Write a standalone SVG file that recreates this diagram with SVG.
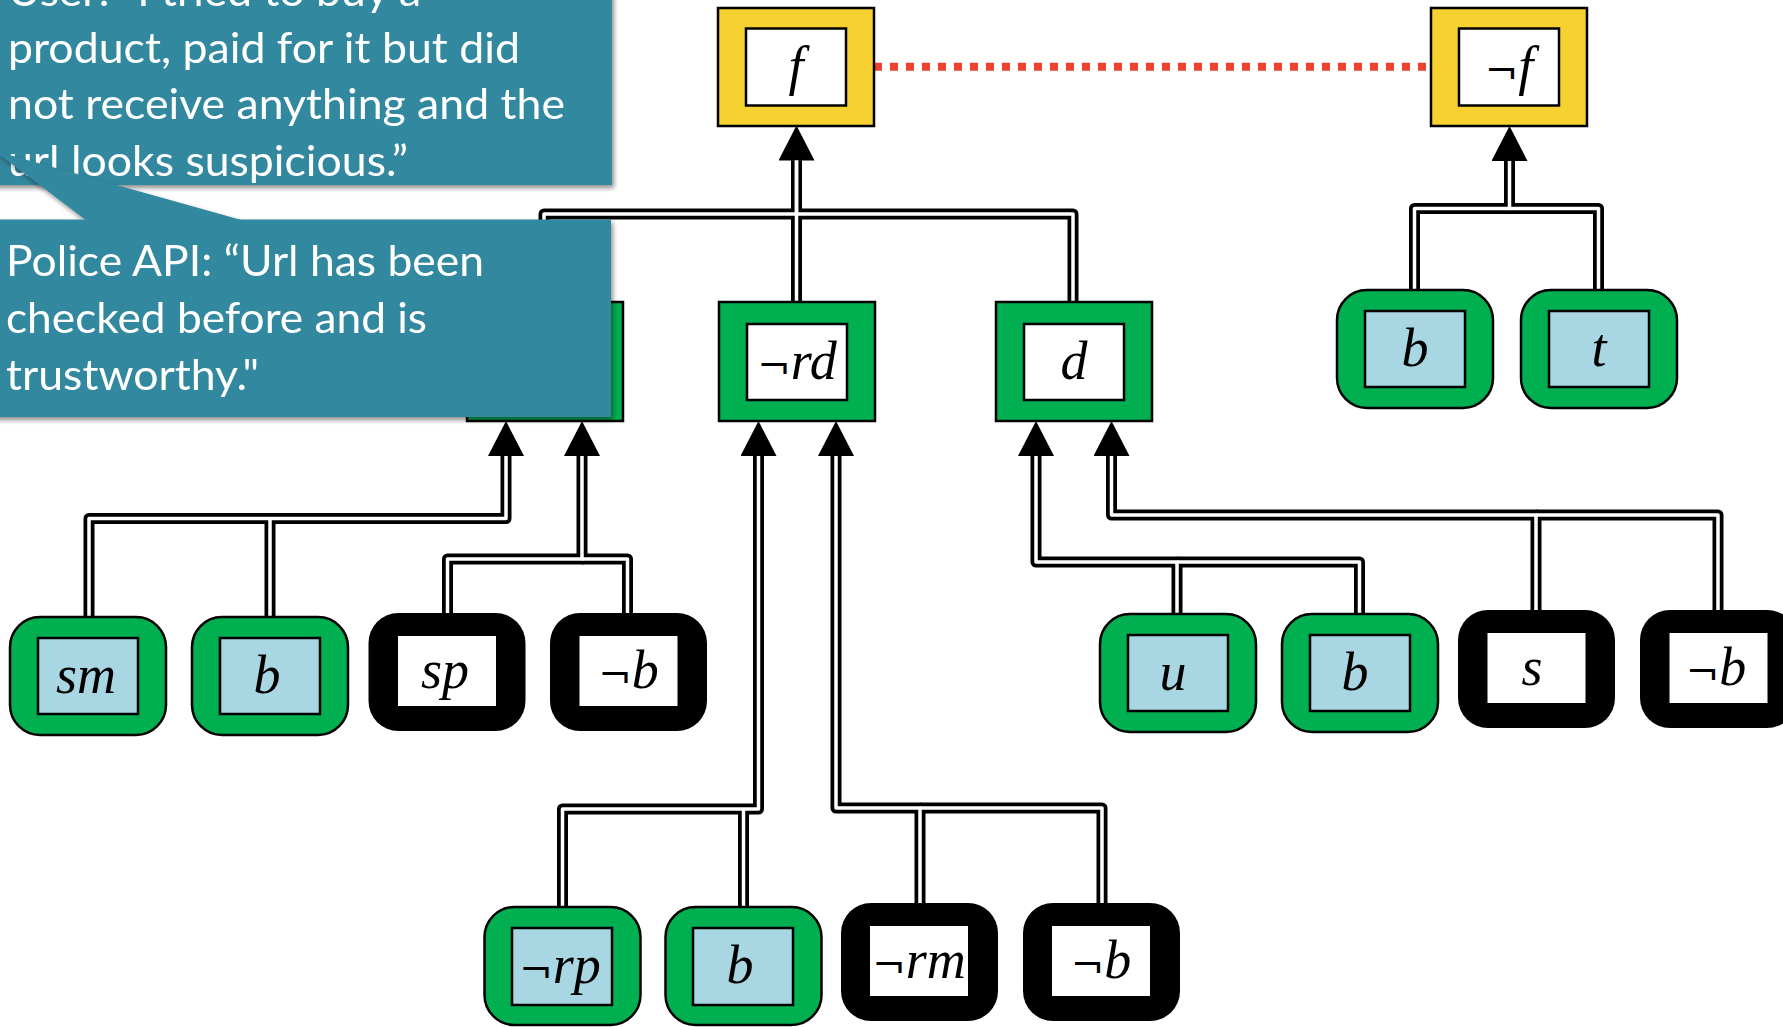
<svg xmlns="http://www.w3.org/2000/svg" width="1783" height="1027" viewBox="0 0 1783 1027">
<defs>
<style>
.cb{fill:none;stroke:#000;stroke-width:11;stroke-linejoin:round}
.cw{fill:none;stroke:#fff;stroke-width:3.5;stroke-linejoin:round}
.yel{fill:#F7D130;stroke:#000;stroke-width:2.5}
.grn{fill:#00AF50;stroke:#000;stroke-width:2.5}
.in{fill:#fff;stroke:#000;stroke-width:2.5}
.inb{fill:#A8D6E2;stroke:#000;stroke-width:2.5}
.blk{fill:#000}
.inw{fill:#fff}
.lbl{font-family:"Liberation Serif",serif;font-style:italic;font-size:54px;text-anchor:middle;fill:#000}
.neg{font-family:"DejaVu Serif",serif;font-style:normal;font-size:40px}
.co{fill:#31889F}
.ct{font-family:Lato,"Open Sans",sans-serif;font-size:42px;fill:#fff}
</style>
<marker id="ah" markerUnits="userSpaceOnUse" markerWidth="36" markerHeight="36" viewBox="0 0 36 36" refX="0" refY="18" orient="auto">
<path d="M0,0 L35,18 L0,36 z" fill="#000"/>
</marker>
<filter id="sh" x="-10%" y="-10%" width="130%" height="140%">
<feGaussianBlur in="SourceAlpha" stdDeviation="2.5"/>
<feOffset dx="2" dy="3" result="b"/>
<feComponentTransfer><feFuncA type="linear" slope="0.45"/></feComponentTransfer>
<feMerge><feMergeNode/><feMergeNode in="SourceGraphic"/></feMerge>
</filter>
</defs>
<rect width="1783" height="1027" fill="#fff"/>

<g id="n-hidden">
<rect class="grn" x="467" y="302" width="156" height="119"/>
<rect class="in" x="495" y="324" width="100" height="76"/>
</g>

<g id="connectors">
<line x1="874" y1="66.7" x2="1430" y2="66.7" stroke="#F04030" stroke-width="8" stroke-dasharray="8 8"/>
<g class="black">
<path class="cb" d="M544,302 V214 H796.5 V160.5"/>
<path class="cb" d="M1073,302 V214 H796.5"/>
<path class="cb" d="M796.5,302 V160.5" marker-end="url(#ah)"/>
<path class="cb" d="M1598.5,290 V208.5 H1509.5"/>
<path class="cb" d="M1414.5,290 V208.5 H1509.5 V161" marker-end="url(#ah)"/>
<path class="cb" d="M270,617 V518.5"/>
<path class="cb" d="M89,617 V518.5 H506 V456" marker-end="url(#ah)"/>
<path class="cb" d="M627.5,613 V559 H582"/>
<path class="cb" d="M447.5,613 V559 H582 V456" marker-end="url(#ah)"/>
<path class="cb" d="M743.5,907 V809"/>
<path class="cb" d="M562.5,907 V809 H758.5 V456" marker-end="url(#ah)"/>
<path class="cb" d="M1102,903 V808 H920"/>
<path class="cb" d="M920,903 V808 H836 V456" marker-end="url(#ah)"/>
<path class="cb" d="M1359.5,614 V562 H1177"/>
<path class="cb" d="M1177,614 V562 H1036 V456" marker-end="url(#ah)"/>
<path class="cb" d="M1718,610 V515 H1536"/>
<path class="cb" d="M1536,610 V515 H1111.5 V456" marker-end="url(#ah)"/>
</g>
<g class="white">
<path class="cw" d="M544,302 V214 H796.5 V160.5"/>
<path class="cw" d="M1073,302 V214 H796.5"/>
<path class="cw" d="M796.5,302 V160.5"/>
<path class="cw" d="M1598.5,290 V208.5 H1509.5"/>
<path class="cw" d="M1414.5,290 V208.5 H1509.5 V161"/>
<path class="cw" d="M270,617 V518.5"/>
<path class="cw" d="M89,617 V518.5 H506 V456"/>
<path class="cw" d="M627.5,613 V559 H582"/>
<path class="cw" d="M447.5,613 V559 H582 V456"/>
<path class="cw" d="M743.5,907 V809"/>
<path class="cw" d="M562.5,907 V809 H758.5 V456"/>
<path class="cw" d="M1102,903 V808 H920"/>
<path class="cw" d="M920,903 V808 H836 V456"/>
<path class="cw" d="M1359.5,614 V562 H1177"/>
<path class="cw" d="M1177,614 V562 H1036 V456"/>
<path class="cw" d="M1718,610 V515 H1536"/>
<path class="cw" d="M1536,610 V515 H1111.5 V456"/>
</g>
</g>

<g id="n-f">
<rect class="yel" x="718" y="8" width="156" height="118"/>
<rect class="in" x="746" y="28.5" width="100" height="77"/>
<text class="lbl" x="796" y="84">f</text>
</g>
<g id="n-notf">
<rect class="yel" x="1431" y="8" width="156" height="118"/>
<rect class="in" x="1459" y="28.5" width="100" height="77"/>
<text class="lbl" x="1509" y="84"><tspan class="neg">¬</tspan>f</text>
</g>
<g id="n-notrd">
<rect class="grn" x="719" y="302" width="156" height="119"/>
<rect class="in" x="747" y="324" width="100" height="76"/>
<text class="lbl" x="797" y="379"><tspan class="neg">¬</tspan>rd</text>
</g>
<g id="n-d">
<rect class="grn" x="996" y="302" width="156" height="119"/>
<rect class="in" x="1024" y="324" width="100" height="76"/>
<text class="lbl" x="1074" y="379">d</text>
</g>
<g id="n-b-top">
<rect class="grn" x="1337" y="290" width="156" height="118" rx="30"/>
<rect class="inb" x="1365" y="311" width="100" height="76"/>
<text class="lbl" x="1415" y="366">b</text>
</g>
<g id="n-t">
<rect class="grn" x="1521" y="290" width="156" height="118" rx="30"/>
<rect class="inb" x="1549" y="311" width="100" height="76"/>
<text class="lbl" x="1599" y="366">t</text>
</g>

<g id="n-sm">
<rect class="grn" x="10" y="617" width="156" height="118" rx="30"/>
<rect class="inb" x="38" y="638" width="100" height="76"/>
<text class="lbl" x="86" y="693">sm</text>
</g>
<g id="n-b-left">
<rect class="grn" x="192" y="617" width="156" height="118" rx="30"/>
<rect class="inb" x="220" y="638" width="100" height="76"/>
<text class="lbl" x="267" y="693">b</text>
</g>
<g id="n-sp">
<rect class="blk" x="368.5" y="613" width="157" height="118" rx="30"/>
<rect class="inw" x="398" y="636" width="98" height="70"/>
<text class="lbl" x="445" y="688">sp</text>
</g>
<g id="n-notb-left">
<rect class="blk" x="550" y="613" width="157" height="118" rx="30"/>
<rect class="inw" x="579.5" y="636" width="98" height="70"/>
<text class="lbl" x="628.5" y="688"><tspan class="neg">¬</tspan>b</text>
</g>

<g id="n-u">
<rect class="grn" x="1100" y="614" width="156" height="118" rx="30"/>
<rect class="inb" x="1128" y="635" width="100" height="76"/>
<text class="lbl" x="1173" y="690">u</text>
</g>
<g id="n-b-right">
<rect class="grn" x="1282" y="614" width="156" height="118" rx="30"/>
<rect class="inb" x="1310" y="635" width="100" height="76"/>
<text class="lbl" x="1355" y="690">b</text>
</g>
<g id="n-s">
<rect class="blk" x="1458" y="610" width="157" height="118" rx="30"/>
<rect class="inw" x="1487.5" y="633" width="98" height="70"/>
<text class="lbl" x="1532" y="685">s</text>
</g>
<g id="n-notb-right">
<rect class="blk" x="1640" y="610" width="157" height="118" rx="30"/>
<rect class="inw" x="1669.5" y="633" width="98" height="70"/>
<text class="lbl" x="1716" y="685"><tspan class="neg">¬</tspan>b</text>
</g>

<g id="n-notrp">
<rect class="grn" x="484.5" y="907" width="156" height="118" rx="30"/>
<rect class="inb" x="512" y="928" width="100" height="77"/>
<text class="lbl" x="560" y="983"><tspan class="neg">¬</tspan>rp</text>
</g>
<g id="n-b-bottom">
<rect class="grn" x="665.5" y="907" width="156" height="118" rx="30"/>
<rect class="inb" x="693" y="928" width="100" height="77"/>
<text class="lbl" x="740" y="983">b</text>
</g>
<g id="n-notrm">
<rect class="blk" x="841" y="903" width="157" height="118" rx="30"/>
<rect class="inw" x="870" y="926" width="98" height="70"/>
<text class="lbl" x="919" y="978"><tspan class="neg">¬</tspan>rm</text>
</g>
<g id="n-notb-bottom">
<rect class="blk" x="1023" y="903" width="157" height="118" rx="30"/>
<rect class="inw" x="1052" y="926" width="98" height="70"/>
<text class="lbl" x="1101" y="978"><tspan class="neg">¬</tspan>b</text>
</g>

<g id="callout-user" filter="url(#sh)">
<rect class="co" x="-20" y="-20" width="632" height="205"/>
<text class="ct" x="8" y="6" textLength="413" lengthAdjust="spacingAndGlyphs">User: “I tried to buy a</text>
<text class="ct" x="8" y="62.5" textLength="512" lengthAdjust="spacingAndGlyphs">product, paid for it but did</text>
<text class="ct" x="8" y="119" textLength="557" lengthAdjust="spacingAndGlyphs">not receive anything and the</text>
<text class="ct" x="8" y="176" textLength="400" lengthAdjust="spacingAndGlyphs">url looks suspicious.”</text>
</g>
<g id="callout-police" filter="url(#sh)">
<polygon class="co" points="-5,151 87,221 245,221"/>
<rect class="co" x="-20" y="219.5" width="631" height="197.5"/>
<text class="ct" x="6" y="276" textLength="478" lengthAdjust="spacingAndGlyphs">Police API: “Url has been</text>
<text class="ct" x="6" y="333" textLength="421" lengthAdjust="spacingAndGlyphs">checked before and is</text>
<text class="ct" x="6" y="390" textLength="253" lengthAdjust="spacingAndGlyphs">trustworthy."</text>
</g>
</svg>
